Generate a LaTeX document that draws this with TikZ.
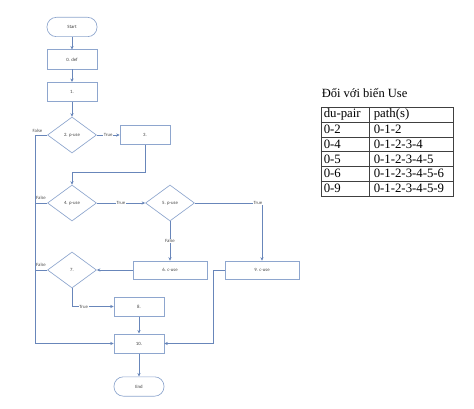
\documentclass[tikz,border=0pt]{standalone}
\usepackage{fontspec}
\setmainfont{Liberation Serif}
\newfontfamily\flowfont{Carlito}
\usetikzlibrary{shapes.geometric,arrows.meta}
\definecolor{boxc}{RGB}{142,166,206}
\definecolor{linec}{RGB}{104,134,186}
\tikzset{
  box/.style={draw=boxc, line width=0.5pt, fill=white, minimum width=37.5pt, minimum height=14.5pt, inner sep=0pt, font=\flowfont\fontsize{3.6}{4}\selectfont, text=black!75},
  widebox/.style={box, minimum width=55.5pt, minimum height=13.5pt},
  term/.style={box, rounded corners=7pt},
  test/.style={diamond, draw=boxc, line width=0.5pt, fill=white, minimum width=36.75pt, minimum height=27pt, inner sep=0pt, font=\flowfont\fontsize{3.6}{4}\selectfont, text=black!75},
  lab/.style={font=\flowfont\fontsize{3.6}{4}\selectfont, inner sep=0.6pt, fill=white, text=black!70},
  link/.style={draw=linec, line width=0.6pt}
}
\begin{document}
\begin{tikzpicture}[x=0.75pt, y=-0.75pt, >={Stealth[length=2.6pt,width=2.4pt]}]
\useasboundingbox (0,0) rectangle (474,409);
    %flowchart
    \node[term] (start) at (72,27) {Start};
    \node[box] (def) at (72,59.5) {0. def};
    \node[box] (n1) at (72,92) {1.};
    \node[test] (p2) at (72,135) {2. p-use};
    \node[box] (n3) at (145,135) {3.};
    \node[test] (p4) at (72,203) {4. p-use};
    \node[test] (p5) at (170,203) {5. p-use};
    \node[widebox] (c6) at (170,270) {6. c-use};
    \node[widebox] (c9) at (262,270) {9. c-use};
    \node[test] (n7) at (72,270) {7.};
    \node[box] (n8) at (139,306.5) {8.};
    \node[box] (n10) at (139,343.5) {10.};
    \node[term] (end) at (139,386.5) {End};
    \coordinate (k3) at (145,172);
    \coordinate (k9) at (213,270);
    \coordinate (f2) at (35,135);
    \coordinate (f4) at (35,203);
    \coordinate (f7) at (35,270);
    \coordinate (f10) at (35,343.5);

            \draw[link,->] (start) -- (def);
            \draw[link,->] (def) -- (n1);
            \draw[link,->] (n1) -- (p2);
            \draw[link,->] (p2) -- (n3) node[lab, midway]{True};
            \draw[link,->] (n3.south) -- (k3) -| (p4.north);
            \draw[link,->] (p4) -- (p5) node[lab, midway]{True};
            \draw[link,->] (p5.east) -| (c9.north) node[lab, pos=0.47]{True};
            \draw[link,->] (p5) -- (c6) node[lab, midway]{False};
            \draw[link,->] (c6) -- (n7);
            \draw[link,->] (n7.south) |- (n8.west) node[lab, pos=0.64]{True};
            \draw[link,->] (n8) -- (n10);
            \draw[link,->] (n10) -- (end);
            \draw[link,->] (c9.west) -- (k9) |- (n10.east);
            % False branches
            \draw[link,->] (p2.west) -- (f2) -- (f10) -- (n10.west);
            \draw[link] (p4.west) -- (f4);
            \draw[link] (n7.west) -- (f7);
\node[lab, fill=none] at (37.5,130.5) {False};
\node[lab, fill=none] at (41,197.5) {False};
\node[lab, fill=none] at (41,264.5) {False};

    %table
    \node[anchor=west, inner sep=0pt, font=\fontsize{9.4}{11}\selectfont] (title) at (321.5,93) {Đối với biến Use};
    \draw[line width=0.5pt, black!75] (321,107) rectangle (453,196);
    \draw[line width=0.5pt, black!75] (369,107) -- (369,196);
    \foreach \y in {122,137,151,166,181}
      \draw[line width=0.5pt, black!75] (321,\y) -- (453,\y);
    \foreach \a/\b [count=\i from 0] in {du-pair/path(s), 0-2/0-1-2, 0-4/0-1-2-3-4, 0-5/0-1-2-3-4-5, 0-6/0-1-2-3-4-5-6, 0-9/0-1-2-3-4-5-9}{
      \node[anchor=west, inner sep=0pt, font=\fontsize{9.6}{11}\selectfont] (pair\i) at (323.5,114.5+14.8*\i) {\a};
      \node[anchor=west, inner sep=0pt, font=\fontsize{9.6}{11}\selectfont] (path\i) at (373.5,114.5+14.8*\i) {\b};
    }
  \end{tikzpicture}
\end{document}
